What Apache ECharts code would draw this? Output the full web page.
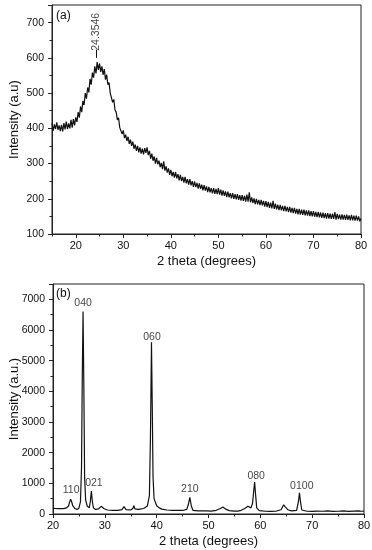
<!DOCTYPE html>
<html>
<head>
<meta charset="utf-8">
<script src="https://cdn.jsdelivr.net/npm/echarts@6/dist/echarts.min.js"></script>
<style>html,body{margin:0;padding:0;background:#fff}#c{width:372px;height:550px}</style>
</head>
<body>
<div id="c"></div>
<script>
// ---- Panel (a): amorphous XRD, 0.25 deg steps from 15 to 80 ----
var aStart = 15, aStep = 0.25;
var aValues = [
 414,393,411,398, 417,396,408,392, 410,391,415,397, 419,398,414,400,
 424,402,426,408, 431,418,446,430, 462,446,478,466, 500,484,516,502,
 540,524,558,544, 576,556,588,566, 584,560,576,552, 568,538,552,524,
 530,500,498,474, 482,452,446,424, 430,402,404,384, 394,372,382,364,
 376,356,368,350, 362,342,354,336, 350,332,346,328, 342,326,344,330,
 346,324,336,314, 328,308,320,300, 316,298,308,290, 302,284,306,280,
 292,274,286,268, 282,264,276,260, 276,258,270,252, 268,250,262,246,
 262,244,256,240, 256,238,250,234, 249,233,245,229, 244,228,240,224,
 239,223,235,219, 234,218,230,215, 230,214,228,213, 230,212,226,209,
 224,208,221,205, 220,204,216,201, 216,200,213,198, 213,197,210,195,
 210,194,208,192, 212,192,218,190, 204,188,201,185, 200,184,197,182,
 197,181,194,178, 193,176,191,174, 189,173,194,171, 186,170,183,168,
 183,167,180,165, 180,164,177,162, 177,161,174,159, 174,158,171,156,
 171,155,169,154, 169,153,167,152, 167,151,165,150, 165,149,163,148,
 163,147,161,146, 161,145,159,144, 159,144,158,143, 158,143,162,141,
 157,142,155,141, 156,141,154,140, 155,140,153,139, 154,139,152,138,
 152,138,150,136, 144
];
var aPeakLabel = '24.3546', aPeakX = 24.3546, aPeakLineY = [600, 623], aPeakTextY = 674;

// ---- Panel (b): crystalline XRD ----
var bTheta = [20,20.5,21,21.5,22,22.5,23,23.2,23.4,23.6,23.8,24.2,24.6,25,25.3,25.5,25.65,25.8,25.95,26.1,26.3,26.6,27,27.2,27.4,27.6,27.8,28.2,28.8,29.3,29.8,30.5,31.5,32.5,33.3,33.7,34.1,35,35.4,35.6,35.8,36.5,37.5,38.2,38.6,38.8,39.0,39.15,39.3,39.5,40,40.5,41,42,43,44,45,45.8,46.1,46.4,46.7,47,48,49,49.3,49.6,50.5,51.5,52.3,52.8,53.3,54,55,55.3,55.6,56.3,57,57.6,58.2,58.5,58.75,58.9,59.05,59.3,59.8,61,62,63,64,64.5,64.8,65.3,66,67,67.35,67.55,67.75,68,69,70,71,72,73,74,75,76,77,78,79,79.5,80];
var bIntensity = [185,180,178,180,175,190,260,380,480,400,270,180,150,190,400,1500,4500,6600,4200,1200,450,260,200,400,750,400,200,150,170,250,180,130,120,120,140,240,140,130,180,270,170,150,180,260,600,2500,5600,3500,1200,500,270,200,160,130,120,120,115,150,300,540,250,120,100,100,160,100,95,120,180,230,160,110,95,140,95,120,180,250,200,350,800,1040,700,200,110,90,85,90,140,300,230,140,100,120,400,690,400,130,90,85,95,90,100,85,90,100,85,95,100,90,95];
var bPeakNames = ['110','040','021','060','210','080','0100'];
var bPeakX = [23.5,25.8,27.9,39.1,46.4,59.2,68.0];
var bPeakY = [770,6880,1000,5760,810,1240,900];

var aTicksMajor = [20,30,40,50,60,70,80];
var aTicksMinor = [15,25,35,45,55,65,75];

var aData = aValues.map(function(v,i){ return [aStart + i*aStep, v]; });
var bData = bTheta.map(function(t,i){ return [t, bIntensity[i]]; });
var bLabels = bPeakNames.map(function(n,i){ return [bPeakX[i], bPeakY[i], n]; });

var FONT = 'Liberation Sans';
var INK = '#111';
var axisLineStyle = {color:'#222', width:1};
var fmt = function(v){return String(v);};
var xTickLabel = {color:INK, fontSize:11, fontFamily:FONT, formatter:fmt};
var yTickLabel = {color:INK, fontSize:10.5, fontFamily:FONT, formatter:fmt};
var nameStyle = {color:INK, fontSize:13, fontFamily:FONT};

var chart = echarts.init(document.getElementById('c'), null, {renderer:'canvas'});
chart.setOption({
  animation:false,
  backgroundColor:'#fff',
  grid:[
    {left:52, right:11, top:5, height:229, show:true, borderColor:'#222', borderWidth:1, containLabel:false, outerBoundsMode:'none'},
    {left:53, right:8, top:284, height:230, show:true, borderColor:'#222', borderWidth:1, containLabel:false, outerBoundsMode:'none'}
  ],
  xAxis:[
    {gridIndex:0, type:'value', min:15, max:80, position:'bottom',
     axisLine:{show:true, lineStyle:axisLineStyle},
     axisTick:{show:true, customValues:aTicksMajor, length:4, lineStyle:axisLineStyle},
     axisLabel:{customValues:aTicksMajor, margin:6, ...xTickLabel},
     splitLine:{show:false},
     name:'2 theta (degrees)', nameLocation:'middle', nameGap:21, nameMoveOverlap:false, nameTextStyle:nameStyle},
    {gridIndex:0, type:'value', min:15, max:80, position:'bottom',
     axisLine:{show:false},
     axisTick:{show:true, customValues:aTicksMinor, length:2.5, lineStyle:axisLineStyle},
     axisLabel:{show:false}, splitLine:{show:false}},
    {gridIndex:1, type:'value', min:20, max:80, interval:10, position:'bottom',
     axisLine:{show:true, lineStyle:axisLineStyle},
     axisTick:{show:true, length:4, lineStyle:axisLineStyle},
     minorTick:{show:true, splitNumber:2, length:2.5, lineStyle:axisLineStyle},
     axisLabel:{margin:6, ...xTickLabel},
     splitLine:{show:false},
     name:'2 theta (degrees)', nameLocation:'middle', nameGap:21, nameMoveOverlap:false, nameTextStyle:nameStyle}
  ],
  yAxis:[
    {gridIndex:0, type:'value', min:100, max:750, interval:100,
     axisLine:{show:true, lineStyle:axisLineStyle},
     axisTick:{show:true, length:4, lineStyle:axisLineStyle},
     minorTick:{show:true, splitNumber:2, length:2.5, lineStyle:axisLineStyle},
     axisLabel:{showMaxLabel:false, margin:8, ...yTickLabel},
     splitLine:{show:false},
     name:'Intensity (a.u)', nameLocation:'middle', nameGap:31, nameMoveOverlap:false, nameTextStyle:nameStyle},
    {gridIndex:1, type:'value', min:0, max:7500, interval:1000,
     axisLine:{show:true, lineStyle:axisLineStyle},
     axisTick:{show:true, length:4, lineStyle:axisLineStyle},
     minorTick:{show:true, splitNumber:2, length:2.5, lineStyle:axisLineStyle},
     axisLabel:{showMaxLabel:false, margin:8, ...yTickLabel},
     splitLine:{show:false},
     name:'Intensity (a.u.)', nameLocation:'middle', nameGap:32, nameMoveOverlap:false, nameTextStyle:nameStyle}
  ],
  graphic:[
    {type:'text', left:56, top:10, style:{text:'(a)', fontSize:12, fontFamily:FONT, fill:INK}},
    {type:'text', left:56, top:288, style:{text:'(b)', fontSize:12, fontFamily:FONT, fill:INK}}
  ],
  series:[
    {type:'line', xAxisIndex:0, yAxisIndex:0, data:aData, showSymbol:false, symbol:'none',
     lineStyle:{color:'#111', width:1.2}, silent:true,
     markLine:{silent:true, symbol:'none', label:{show:false}, lineStyle:{color:'#111', width:1, type:'solid'},
       data:[[{coord:[aPeakX, aPeakLineY[0]]},{coord:[aPeakX, aPeakLineY[1]]}]]}
    },
    {type:'scatter', xAxisIndex:0, yAxisIndex:0, data:[[aPeakX, aPeakTextY, aPeakLabel]], symbolSize:0, silent:true,
     label:{show:true, position:'inside', rotate:90, formatter:function(p){return p.value[2];}, color:INK, fontSize:10.5, fontFamily:FONT}},
    {type:'line', xAxisIndex:2, yAxisIndex:1, data:bData, showSymbol:false, symbol:'none',
     lineStyle:{color:'#111', width:1.2}, silent:true},
    {type:'scatter', xAxisIndex:2, yAxisIndex:1, data:bLabels, symbolSize:0, silent:true,
     label:{show:true, position:'inside', formatter:function(p){return p.value[2];}, color:INK, fontSize:10.5, fontFamily:FONT}}
  ]
});
</script>
</body>
</html>
